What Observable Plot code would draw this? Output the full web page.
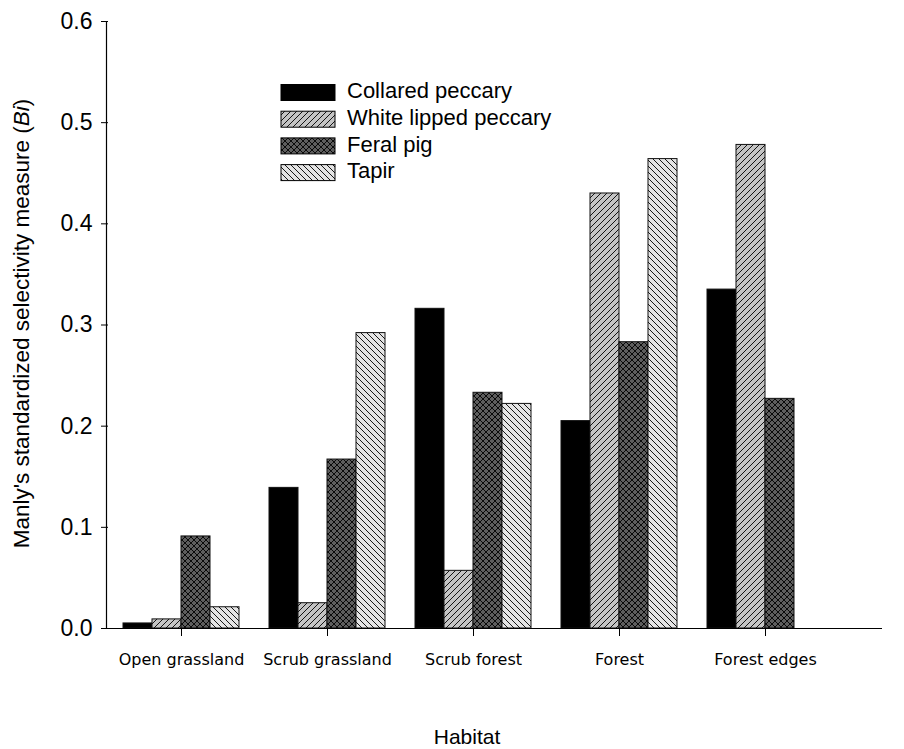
<!DOCTYPE html>
<html>
<head>
<meta charset="utf-8">
<script src="https://cdn.jsdelivr.net/npm/d3@7"></script>
<script src="https://cdn.jsdelivr.net/npm/@observablehq/plot@0.6"></script>
<style>
  body { margin: 0; background: #fff; }
  #chart { position: relative; width: 904px; height: 749px; }
</style>
</head>
<body>
<div id="chart"></div>
<script>
// ---- data ----
const habitats = ["Open grassland", "Scrub grassland", "Scrub forest", "Forest", "Forest edges"];
const species = ["Collared peccary", "White lipped peccary", "Feral pig", "Tapir"];
const collaredPeccary = [0.005, 0.139, 0.316, 0.205, 0.335];
const whiteLippedPeccary = [0.009, 0.025, 0.057, 0.430, 0.478];
const feralPig = [0.091, 0.167, 0.233, 0.283, 0.227];
const tapir = [0.021, 0.292, 0.222, 0.464, null];
const yTicks = [0, 0.1, 0.2, 0.3, 0.4, 0.5, 0.6];
const fills = ["#000000", "url(#hatchWL)", "url(#hatchFP)", "url(#hatchTP)"];

const seriesList = [collaredPeccary, whiteLippedPeccary, feralPig, tapir];
const rows = [];
habitats.forEach((h, i) => species.forEach((s, j) => {
  const v = seriesList[j][i];
  if (v != null) rows.push({habitat: h, species: s, value: v});
}));

const plot = Plot.plot({
  width: 904,
  height: 749,
  marginLeft: 106,
  marginRight: 22,
  marginTop: 21,
  marginBottom: 121,
  style: {fontFamily: "'Liberation Sans', Arial, sans-serif", fontSize: "20px", background: "white", color: "black"},
  fx: {domain: habitats, paddingInner: 0, paddingOuter: 0.1519, align: 0.05, label: null, tickSize: 8, tickPadding: 17, axis: "bottom"},
  x: {domain: species, paddingInner: 0, paddingOuter: 0.483, axis: null},
  y: {domain: [0, 0.6], ticks: yTicks, tickFormat: d3.format(".1f"), tickSize: 7, tickPadding: 9, label: null},
  color: {domain: species, range: fills},
  marks: [
    Plot.barY(rows, {fx: "habitat", x: "species", y: "value", fill: "species", stroke: "#111", strokeWidth: 1})
  ]
});

const svg = d3.select(plot.tagName.toLowerCase() === "svg" ? plot : plot.querySelector("svg"));

// hatch patterns
const defs = svg.insert("defs", ":first-child");
const p1 = defs.append("pattern").attr("id", "hatchWL").attr("patternUnits", "userSpaceOnUse").attr("width", 6).attr("height", 6);
p1.append("rect").attr("width", 6).attr("height", 6).attr("fill", "#c4c4c4");
p1.append("path").attr("d", "M0,6 L6,0 M-1,1 L1,-1 M5,7 L7,5").attr("stroke", "#000").attr("stroke-width", 0.9);
const p2 = defs.append("pattern").attr("id", "hatchFP").attr("patternUnits", "userSpaceOnUse").attr("width", 6).attr("height", 6);
p2.append("rect").attr("width", 6).attr("height", 6).attr("fill", "#5e5e5e");
p2.append("path").attr("d", "M0,6 L6,0 M-1,1 L1,-1 M5,7 L7,5 M0,0 L6,6 M-1,5 L1,7 M5,-1 L7,1").attr("stroke", "#000").attr("stroke-width", 0.9);
const p3 = defs.append("pattern").attr("id", "hatchTP").attr("patternUnits", "userSpaceOnUse").attr("width", 6).attr("height", 6);
p3.append("rect").attr("width", 6).attr("height", 6).attr("fill", "#e4e4e4");
p3.append("path").attr("d", "M0,0 L6,6 M-1,5 L1,7 M5,-1 L7,1").attr("stroke", "#000").attr("stroke-width", 0.9);

// axis fonts
svg.selectAll('g[aria-label="fx-axis tick label"]').attr("font-family", "'DejaVu Sans', Verdana, sans-serif").attr("font-size", 16);
svg.selectAll('g[aria-label="y-axis tick label"]').attr("font-size", 23);

// axis lines
const y = plot.scale("y");
const x0 = 106, x1 = 882;
svg.append("line").attr("x1", x0 + 0.5).attr("x2", x0 + 0.5).attr("y1", y.apply(0)).attr("y2", y.apply(0.6)).attr("stroke", "#000").attr("stroke-width", 1.2);
svg.append("line").attr("x1", x0).attr("x2", x1).attr("y1", y.apply(0) + 0.5).attr("y2", y.apply(0) + 0.5).attr("stroke", "#000").attr("stroke-width", 1.2);

// y label with italic Bi
const yl = svg.append("text")
  .attr("transform", `translate(23,${(y.apply(0) + y.apply(0.6)) / 2 - 1}) rotate(-90)`)
  .attr("text-anchor", "middle").attr("dominant-baseline", "middle")
  .attr("font-family", "'Liberation Sans', Arial, sans-serif").attr("font-size", 22.5).attr("fill", "#000");
yl.append("tspan").text("Manly's standardized selectivity measure (");
yl.append("tspan").attr("font-style", "italic").text("Bi");
yl.append("tspan").text(")");

// x title
svg.append("text").attr("x", 467).attr("y", 738).attr("text-anchor", "middle").attr("dominant-baseline", "middle")
  .attr("font-family", "'Liberation Sans', Arial, sans-serif").attr("font-size", 21).attr("fill", "#000").text("Habitat");

// legend
const lg = svg.append("g").attr("aria-label", "legend");
species.forEach((s, i) => {
  const yy = 84.5 + i * 26.7;
  lg.append("rect").attr("x", 281).attr("y", yy).attr("width", 54).attr("height", 16)
    .attr("fill", fills[i]).attr("stroke", "#000").attr("stroke-width", 1);
  lg.append("text").attr("x", 347).attr("y", yy + 8).attr("text-anchor", "start").attr("dominant-baseline", "middle")
    .attr("font-family", "'Liberation Sans', Arial, sans-serif").attr("font-size", 22).attr("fill", "#000").text(s);
});

document.getElementById("chart").appendChild(plot);
</script>
</body>
</html>
